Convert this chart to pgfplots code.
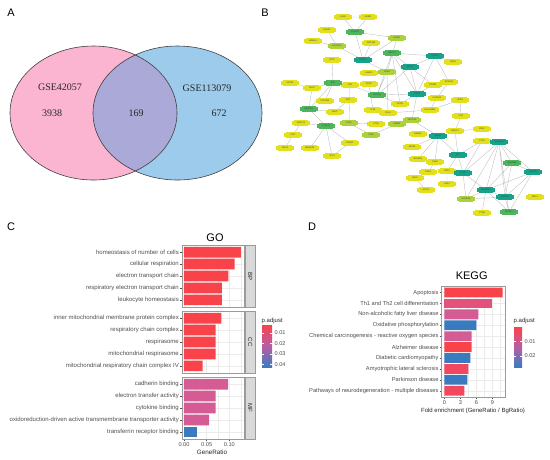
\documentclass[border=0pt]{standalone}
\usepackage{fontspec}
\setmainfont{Liberation Sans}
\newfontfamily\serif{Liberation Serif}
\usepackage{pgfplots}
\pgfplotsset{compat=1.18}
\usepackage{pgfplotstable}
\newcommand\fs[1]{\fontsize{#1}{#1}\selectfont}
\definecolor{vpink}{HTML}{FBB5D1}
\definecolor{vblue}{HTML}{9DCBEC}
\definecolor{vmix}{HTML}{AAA9D8}
\definecolor{nY}{HTML}{E2DF1C}
\definecolor{nL}{HTML}{ADD13A}
\definecolor{nG}{HTML}{4DB65C}
\definecolor{nT}{HTML}{17A28A}
\definecolor{edgec}{HTML}{BDBDBD}
\definecolor{bRed}{HTML}{F9434B}
\definecolor{bRed2}{HTML}{F1485F}
\definecolor{bPink}{HTML}{E2527C}
\definecolor{bMag}{HTML}{D55B95}
\definecolor{bMid}{HTML}{B65FA4}
\definecolor{bBlue}{HTML}{3A7BC0}
\definecolor{tickc}{HTML}{4D4D4D}
\definecolor{borderc}{HTML}{9A9A9A}
\definecolor{gridc}{HTML}{EBEBEB}
\definecolor{stripc}{HTML}{D9D9D9}

\pgfplotstableread{
x y label
343 17 IL1R2
368 17 IL18R1
327 30 ACAP1
313 41 MAML3
371 43 GPR183
332 60 TET2
453 62 SOX4
369 73 NHEJ1
290 83 ZFP36
312 88 NCF2
350 85 TNF
369 84 CRCP
433 85 CPNE1
449 82 SPTAN1
325 101 FCGR2A
348 100 NSF
400 104 PDPN
437 98 CAPZA1
460 100 UPB1
335 112 MGP
373 110 TLR1
388 113 FGL2
430 110 HLA-DRB1
301 123 CEP170
461 116 CPD
376 124 CTSF
482 129 CD1C
455 131 DEGS1
293 135 CFD
350 143 PRAP1
418 134 RAB3A
285 148 RGS1
310 148 MAGED1
412 147 MCM4
332 156 STX3
482 141 PTX3
418 159 NDUFB1
435 162 CD99
428 172 CD53
447 171 GPX1
415 178 RAC2
447 184 PAK1
426 190 ACSL1
535 197 MCL1
482 213 CTSB
}\nodesY
\pgfplotstableread{
x y label
337 46 NOTCH1
397 38 EPB41
387 72 FGD4
412 120 NT5C3A
349 123 CTSC
397 124 LMBR1
371 135 CTSD
466 199 NDUFA8
}\nodesL
\pgfplotstableread{
x y label
355 32 IFNGR1
392 53 MAPK1
333 83 BAX
377 95 PRKCQ
309 109 MAP3K1
326 126 PLAUR
512 163 NDUFB8
509 212 ATP5F1
}\nodesG
\pgfplotstableread{
x y label
363 60 ITGAM
435 56 PLCG2
410 67 IGHM
417 94 CD44
438 136 NAGA
499 142 NDUFS4
458 155 APP
533 172 COX7B
463 173 TFRC
486 190 NDUFS2
505 197 COX4I1
}\nodesT

\pgfplotsset{
  netnodes/.style={only marks, mark=*, mark size=2.9pt,
    mark options={xscale=3.1, draw=#1, fill=#1, line width=0pt},
    nodes near coords, point meta=explicit symbolic,
    every node near coord/.append style={anchor=center, font=\fs{2.2}, text=black!75, inner sep=0pt}},
  barax/.style={scale only axis, y dir=reverse, xbar, bar shift=0pt,
    xmajorgrids, xminorgrids, ymajorgrids,
    major grid style={gridc, line width=0.45pt},
    minor grid style={gridc, line width=0.25pt},
    axis line style={borderc, line width=0.45pt},
    tick align=outside, tick pos=left, major tick length=2pt, minor tick length=0pt,
    tick style={tickc, line width=0.4pt},
    /pgf/number format/assume math mode=true,
    xticklabel style={font=\fs{5.6}, text=tickc, inner sep=1pt},
    every axis plot/.append style={draw=none}},
  goax/.style={barax, width=62pt, height=62pt, xmin=-0.0044, xmax=0.1322,
    ymin=0.4, ymax=5.6, bar width=10.7pt, ytick={1,2,3,4,5},
    xtick={0,0.05,0.1}, minor xtick={0.025,0.075,0.125},
    yticklabel style={font=\fs{6}, text=tickc, inner sep=1pt}},
}

\begin{document}
\begin{tikzpicture}
% ---------- base layer: Venn, network, texts ----------
\begin{axis}[at={(0pt,0pt)}, anchor=north west, scale only axis, width=550pt, height=459pt,
  xmin=0, xmax=550, ymin=0, ymax=459, y dir=reverse, hide axis, clip=false]
% Venn diagram
\fill[vpink] (axis cs:93.5,113) ellipse [x radius=83.5pt, y radius=67pt];
\fill[vblue] (axis cs:177.5,113) ellipse [x radius=84.5pt, y radius=67pt];
\begin{scope}
\clip (axis cs:93.5,113) ellipse [x radius=83.5pt, y radius=67pt];
\fill[vmix] (axis cs:177.5,113) ellipse [x radius=84.5pt, y radius=67pt];
\end{scope}
\draw[black!75, line width=0.6pt] (axis cs:93.5,113) ellipse [x radius=83.5pt, y radius=67pt];
\draw[black!75, line width=0.6pt] (axis cs:177.5,113) ellipse [x radius=84.5pt, y radius=67pt];
\node[font=\serif\fs{10}, text=black!85] at (axis cs:60,87.5) {GSE42057};
\node[font=\serif\fs{10}, text=black!85] at (axis cs:52,113.5) {3938};
\node[font=\serif\fs{10}, text=black!85] at (axis cs:136,113.5) {169};
\node[font=\serif\fs{10}, text=black!85] at (axis cs:207,88) {GSE113079};
\node[font=\serif\fs{10}, text=black!85] at (axis cs:219,113.5) {672};
% panel letters
\node[font=\fs{11}] at (axis cs:11,12.5) {A};
\node[font=\fs{11}] at (axis cs:265,12.5) {B};
\node[font=\fs{11}] at (axis cs:11,227) {C};
\node[font=\fs{11}] at (axis cs:312,227) {D};
% network edges
\addplot[draw=edgec, line width=0.35pt, no markers, unbounded coords=jump] coordinates {
(343,17) (368,17) (0,nan) (343,17) (355,32) (0,nan) (368,17) (355,32) (0,nan)
(355,32) (363,60) (0,nan) (355,32) (397,38) (0,nan) (327,30) (337,46) (0,nan)
(313,41) (337,46) (0,nan) (337,46) (363,60) (0,nan) (332,60) (333,83) (0,nan)
(371,43) (363,60) (0,nan) (397,38) (363,60) (0,nan) (397,38) (387,72) (0,nan)
(363,60) (387,72) (0,nan) (392,53) (435,56) (0,nan) (392,53) (410,67) (0,nan)
(392,53) (377,95) (0,nan) (392,53) (400,104) (0,nan) (392,53) (417,94) (0,nan)
(435,56) (453,62) (0,nan) (435,56) (410,67) (0,nan) (435,56) (417,94) (0,nan)
(435,56) (449,82) (0,nan) (410,67) (417,94) (0,nan) (410,67) (433,85) (0,nan)
(410,67) (377,95) (0,nan) (417,94) (377,95) (0,nan) (417,94) (400,104) (0,nan)
(417,94) (433,85) (0,nan) (417,94) (412,120) (0,nan) (449,82) (437,98) (0,nan)
(437,98) (430,110) (0,nan) (387,72) (388,113) (0,nan) (387,72) (377,95) (0,nan)
(377,95) (400,104) (0,nan) (377,95) (350,85) (0,nan) (333,83) (312,88) (0,nan)
(290,83) (312,88) (0,nan) (312,88) (309,109) (0,nan) (333,83) (325,101) (0,nan)
(333,83) (309,109) (0,nan) (309,109) (335,112) (0,nan) (309,109) (326,126) (0,nan)
(348,100) (335,112) (0,nan) (301,123) (326,126) (0,nan) (293,135) (301,123) (0,nan)
(293,135) (285,148) (0,nan) (326,126) (310,148) (0,nan) (326,126) (332,156) (0,nan)
(326,126) (350,143) (0,nan) (350,143) (332,156) (0,nan) (349,123) (376,124) (0,nan)
(349,123) (371,135) (0,nan) (371,135) (397,124) (0,nan) (397,124) (412,120) (0,nan)
(350,85) (349,123) (0,nan) (369,84) (373,110) (0,nan) (388,113) (430,110) (0,nan)
(430,110) (460,100) (0,nan) (460,100) (461,116) (0,nan) (461,116) (455,131) (0,nan)
(455,131) (482,129) (0,nan) (455,131) (458,155) (0,nan) (412,120) (438,136) (0,nan)
(418,134) (438,136) (0,nan) (438,136) (412,147) (0,nan) (438,136) (418,159) (0,nan)
(438,136) (435,162) (0,nan) (438,136) (458,155) (0,nan) (435,162) (428,172) (0,nan)
(458,155) (482,141) (0,nan) (458,155) (463,173) (0,nan) (458,155) (447,171) (0,nan)
(447,171) (447,184) (0,nan) (482,141) (463,173) (0,nan) (499,142) (463,173) (0,nan)
(499,142) (512,163) (0,nan) (499,142) (533,172) (0,nan) (499,142) (486,190) (0,nan)
(499,142) (505,197) (0,nan) (499,142) (466,199) (0,nan) (499,142) (509,212) (0,nan)
(512,163) (533,172) (0,nan) (512,163) (486,190) (0,nan) (512,163) (505,197) (0,nan)
(533,172) (486,190) (0,nan) (533,172) (505,197) (0,nan) (533,172) (509,212) (0,nan)
(486,190) (505,197) (0,nan) (486,190) (466,199) (0,nan) (486,190) (482,213) (0,nan)
(486,190) (463,173) (0,nan) (505,197) (509,212) (0,nan) (505,197) (466,199) (0,nan)
(486,190) (509,212) (0,nan) (415,178) (426,190) (0,nan) (466,199) (463,173)
};
% network nodes
\addplot[netnodes=nY] table[x=x, y=y, meta=label] {\nodesY};
\addplot[netnodes=nL] table[x=x, y=y, meta=label] {\nodesL};
\addplot[netnodes=nG] table[x=x, y=y, meta=label] {\nodesG};
\addplot[netnodes=nT] table[x=x, y=y, meta=label] {\nodesT};
% GO texts, strips and colour bar
\node[font=\fs{11}] at (axis cs:215,237.5) {GO};
\draw[fill=stripc, draw=borderc, line width=0.45pt] (axis cs:245,245) rectangle (axis cs:255.5,307);
\draw[fill=stripc, draw=borderc, line width=0.45pt] (axis cs:245,311) rectangle (axis cs:255.5,373);
\draw[fill=stripc, draw=borderc, line width=0.45pt] (axis cs:245,377) rectangle (axis cs:255.5,439);
\node[rotate=-90, font=\fs{6}, text=black!85] at (axis cs:250.2,276) {BP};
\node[rotate=-90, font=\fs{6}, text=black!85] at (axis cs:250.2,342) {CC};
\node[rotate=-90, font=\fs{6}, text=black!85] at (axis cs:250.2,408) {MF};
\node[font=\fs{6.3}, text=black!85] at (axis cs:212,452) {GeneRatio};
\node[anchor=west, font=\fs{6}, text=black!85, inner sep=0pt] at (axis cs:261.5,320.5) {p.adjust};
\shade[top color=bRed, bottom color=bBlue, middle color=bMid] (axis cs:262,325) rectangle (axis cs:272,367);
\draw[white, line width=0.4pt] (axis cs:262,333) -- (axis cs:264,333);
\draw[white, line width=0.4pt] (axis cs:270,333) -- (axis cs:272,333);
\draw[white, line width=0.4pt] (axis cs:262,343.5) -- (axis cs:264,343.5);
\draw[white, line width=0.4pt] (axis cs:270,343.5) -- (axis cs:272,343.5);
\draw[white, line width=0.4pt] (axis cs:262,354) -- (axis cs:264,354);
\draw[white, line width=0.4pt] (axis cs:270,354) -- (axis cs:272,354);
\draw[white, line width=0.4pt] (axis cs:262,364.5) -- (axis cs:264,364.5);
\draw[white, line width=0.4pt] (axis cs:270,364.5) -- (axis cs:272,364.5);
\node[anchor=west, font=\fs{5.6}, text=tickc, inner sep=0pt] at (axis cs:274.5,333) {0.01};
\node[anchor=west, font=\fs{5.6}, text=tickc, inner sep=0pt] at (axis cs:274.5,343.5) {0.02};
\node[anchor=west, font=\fs{5.6}, text=tickc, inner sep=0pt] at (axis cs:274.5,354) {0.03};
\node[anchor=west, font=\fs{5.6}, text=tickc, inner sep=0pt] at (axis cs:274.5,364.5) {0.04};
% KEGG texts and colour bar
\node[font=\fs{11}] at (axis cs:471.7,276) {KEGG};
\node[font=\fs{6}, text=black!85] at (axis cs:473,411) {Fold enrichment (GeneRatio / BgRatio)};
\node[anchor=west, font=\fs{6}, text=black!85, inner sep=0pt] at (axis cs:513.5,321) {p.adjust};
\shade[top color=bRed, bottom color=bBlue, middle color=bMid] (axis cs:514,327) rectangle (axis cs:522,367);
\draw[white, line width=0.4pt] (axis cs:514,341.3) -- (axis cs:515.6,341.3);
\draw[white, line width=0.4pt] (axis cs:520.4,341.3) -- (axis cs:522,341.3);
\draw[white, line width=0.4pt] (axis cs:514,355.7) -- (axis cs:515.6,355.7);
\draw[white, line width=0.4pt] (axis cs:520.4,355.7) -- (axis cs:522,355.7);
\node[anchor=west, font=\fs{5.6}, text=tickc, inner sep=0pt] at (axis cs:524.5,341.3) {0.01};
\node[anchor=west, font=\fs{5.6}, text=tickc, inner sep=0pt] at (axis cs:524.5,355.7) {0.02};
\end{axis}

% ---------- GO: BP ----------
\begin{axis}[goax, at={(182pt,-245pt)}, anchor=north west,
  yticklabels={homeostasis of number of cells, cellular respiration, electron transport chain, respiratory electron transport chain, leukocyte homeostasis},
  xticklabels={}, xtick style={draw=none}]
\addplot[fill=bRed] coordinates {(0.1255,1) (0.1116,2) (0.0977,3) (0.0837,4) (0.0837,5)};
\end{axis}
% ---------- GO: CC ----------
\begin{axis}[goax, at={(182pt,-311pt)}, anchor=north west,
  yticklabels={inner mitochondrial membrane protein complex, respiratory chain complex, respirasome, mitochondrial respirasome, mitochondrial respiratory chain complex IV},
  xticklabels={}, xtick style={draw=none}]
\addplot[fill=bRed] coordinates {(0.0822,1) (0.0695,2) (0.0695,3) (0.0695,4) (0.0412,5)};
\end{axis}
% ---------- GO: MF ----------
\begin{axis}[goax, at={(182pt,-377pt)}, anchor=north west,
  yticklabels={cadherin binding, electron transfer activity, cytokine binding, oxidoreduction-driven active transmembrane transporter activity, transferrin receptor binding},
  xticklabels={0.00,0.05,0.10}]
\addplot[fill=bMag] coordinates {(0.0975,1) (0.0695,2) (0.0695,3) (0.0555,4)};
\addplot[fill=bBlue] coordinates {(0.0280,5)};
\end{axis}

% ---------- KEGG ----------
\begin{axis}[barax, at={(441.7pt,-286pt)}, anchor=north west, width=63.3pt, height=111.3pt,
  xmin=-0.49, xmax=11.38, ymin=0.4, ymax=10.6, bar width=9.8pt,
  xtick={0,3,6,9}, minor xtick={1.5,4.5,7.5,10.5}, ytick={1,...,10},
  yticklabel style={font=\fs{5.7}, text=tickc, inner sep=1pt},
  yticklabels={Apoptosis, Th1 and Th2 cell differentiation, Non-alcoholic fatty liver disease, Oxidative phosphorylation, Chemical carcinogenesis - reactive oxygen species, Alzheimer disease, Diabetic cardiomyopathy, Amyotrophic lateral sclerosis, Parkinson disease, Pathways of neurodegeneration - multiple diseases}]
\addplot[fill=bRed] coordinates {(10.95,1) (5.13,6)};
\addplot[fill=bPink] coordinates {(8.94,2)};
\addplot[fill=bMag] coordinates {(6.38,3) (5.13,5)};
\addplot[fill=bBlue] coordinates {(6.00,4) (4.88,7) (4.31,9)};
\addplot[fill=bRed2] coordinates {(4.50,8) (3.75,10)};
\end{axis}

\pgfresetboundingbox
\path[use as bounding box] (0pt,0pt) rectangle (550pt,-459pt);
\end{tikzpicture}
\end{document}
